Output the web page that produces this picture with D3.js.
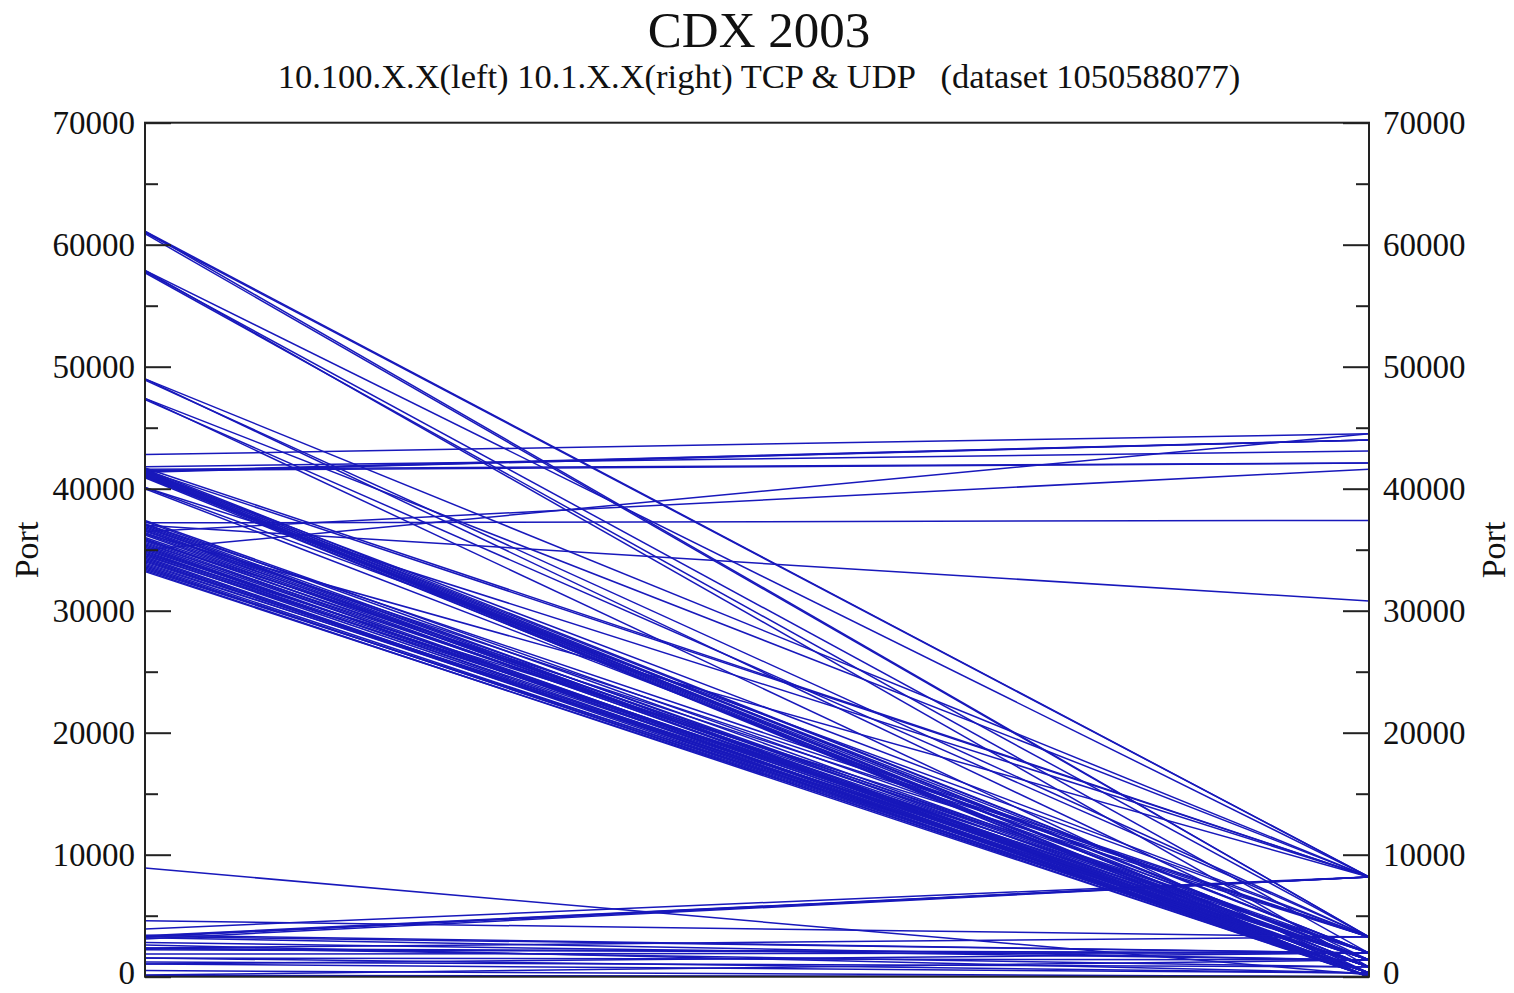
<!DOCTYPE html>
<html>
<head>
<meta charset="utf-8">
<script src="https://cdn.jsdelivr.net/npm/d3@7"></script>
<style>
  html, body { margin: 0; padding: 0; background: #fff; }
  svg { display: block; }
  text { font-family: "Liberation Serif", "DejaVu Serif", serif; fill: #111; }
</style>
</head>
<body>
<svg id="chart" width="1514" height="993"></svg>
<script>
// Port pairs: [port on 10.100.X.X (left), port on 10.1.X.X (right)]
const highPairs = [
  [61100, 8180], [61000, 8180], [60900, 3260], [61100, 3260],
  [57900, 8180], [57800, 3260], [57700, 1940], [57900, 800],
  [49000, 8180], [48900, 3260], [49000, 1370],
  [47400, 8180], [47300, 3260], [47400, 300]
];

const flatPairs = [
  [42800, 44500], [41400, 44000], [41350, 44000], [41450, 44000],
  [41800, 43100], [41500, 42100], [41600, 42100],
  [36500, 41600], [35000, 44500], [37200, 37400], [37000, 30800]
];

const midPairs = [
  [41600, 1940], [41500, 1370], [41400, 800], [41300, 300], [41200, 0],
  [41100, 800], [41000, 1370], [40900, 300], [41400, 3260], [41500, 8180],
  [41700, 8180], [40100, 3260], [40000, 1370], [40100, 8180],
  [41450, 1940], [41350, 1370], [41250, 800], [41150, 300], [41050, 0],
  [40950, 1940],
  [37400, 1940], [37300, 1370], [37100, 800], [37000, 300], [36900, 0],
  [36800, 1370], [36500, 3260], [36300, 800], [36200, 300], [36000, 1940],
  [35800, 1370], [35600, 0], [35400, 800], [35200, 300], [35000, 1370],
  [34900, 0], [34700, 800], [34500, 1940], [34300, 300], [34200, 0],
  [34000, 1370], [33900, 800], [33700, 300], [33600, 0], [33400, 800],
  [33300, 0], [33200, 300],
  [36700, 300], [36600, 0], [36400, 1370], [35900, 800], [35700, 300],
  [35500, 1940], [35300, 0], [35100, 800], [34800, 1370], [34600, 300],
  [34400, 0], [34100, 800], [33800, 1370], [33500, 300],
  [36300, 8180], [35800, 3260], [37100, 3260], [34700, 3260]
];

const lowPairs = [
  [8900, 150], [4580, 3260], [3920, 8180], [3300, 8180], [3250, 8180],
  [3350, 8180], [3100, 8180], [3300, 1940], [2800, 1370], [2360, 3260],
  [2360, 800], [1860, 1940], [1530, 1370], [1530, 300], [1040, 300],
  [1040, 1940], [140, 1370], [100, 0], [2300, 1940], [2200, 1940],
  [3200, 1370], [3400, 1940], [2600, 300], [1200, 800], [500, 0]
];

const sides = ["10.100.X.X", "10.1.X.X"];
const majorTicks = [0, 10000, 20000, 30000, 40000, 50000, 60000, 70000];
const minorTicks = [5000, 15000, 25000, 35000, 45000, 55000, 65000];

const titleText = "CDX 2003";
const subtitleText = "10.100.X.X(left) 10.1.X.X(right) TCP & UDP   (dataset 1050588077)";
const axisLabel = "Port";

const svg = d3.select("#chart");
const plot = { left: 145, right: 1369, top: 122.7, bottom: 976.7 };

const x = d3.scalePoint().domain(sides).range([plot.left, plot.right]);
const y = d3.scaleLinear().domain([0, 70000]).range([plot.bottom, plot.top]);

// Connection lines
const allPairs = highPairs.concat(flatPairs, midPairs, lowPairs);
const line = d3.line().x(d => x(d.side)).y(d => y(d.port));

svg.append("g")
  .attr("fill", "none")
  .attr("stroke", "#1818bb")
  .attr("stroke-width", 1.5)
  .selectAll("path")
  .data(allPairs)
  .join("path")
  .attr("d", p => line([{ side: sides[0], port: p[0] }, { side: sides[1], port: p[1] }]));

// Frame
svg.append("rect")
  .attr("x", plot.left).attr("y", plot.top)
  .attr("width", plot.right - plot.left).attr("height", plot.bottom - plot.top)
  .attr("fill", "none").attr("stroke", "#222").attr("stroke-width", 2);

function styleAxis(g) {
  g.select(".domain").remove();
  g.selectAll(".tick line").attr("stroke", "#222").attr("stroke-width", 2);
  g.selectAll(".tick text")
    .style("font-family", '"Liberation Serif", serif')
    .style("font-size", "33px").attr("fill", "#111");
  // keep the bottom label inside the page
  g.selectAll(".tick").filter(d => d === 0).select("text").attr("dy", "0.22em");
}

// Left axis
svg.append("g")
  .attr("transform", `translate(${plot.left},0)`)
  .call(d3.axisLeft(y).tickValues(majorTicks).tickFormat(d3.format("d")).tickSize(-26).tickPadding(10))
  .call(styleAxis);
svg.append("g")
  .attr("transform", `translate(${plot.left},0)`)
  .call(d3.axisLeft(y).tickValues(minorTicks).tickFormat("").tickSize(-13))
  .call(styleAxis);

// Right axis
svg.append("g")
  .attr("transform", `translate(${plot.right},0)`)
  .call(d3.axisRight(y).tickValues(majorTicks).tickFormat(d3.format("d")).tickSize(-26).tickPadding(14))
  .call(styleAxis);
svg.append("g")
  .attr("transform", `translate(${plot.right},0)`)
  .call(d3.axisRight(y).tickValues(minorTicks).tickFormat("").tickSize(-13))
  .call(styleAxis);

// Titles
svg.append("text")
  .attr("x", 759).attr("y", 47)
  .attr("text-anchor", "middle")
  .style("font-size", "51px")
  .text(titleText);

svg.append("text")
  .attr("x", 759).attr("y", 88)
  .attr("text-anchor", "middle")
  .style("font-size", "34.5px")
  .style("white-space", "pre")
  .text(subtitleText);

// Axis titles
svg.append("text")
  .attr("transform", "translate(38,550) rotate(-90)")
  .attr("text-anchor", "middle")
  .style("font-size", "34px")
  .text(axisLabel);

svg.append("text")
  .attr("transform", "translate(1505,550) rotate(-90)")
  .attr("text-anchor", "middle")
  .style("font-size", "34px")
  .text(axisLabel);
</script>
</body>
</html>
